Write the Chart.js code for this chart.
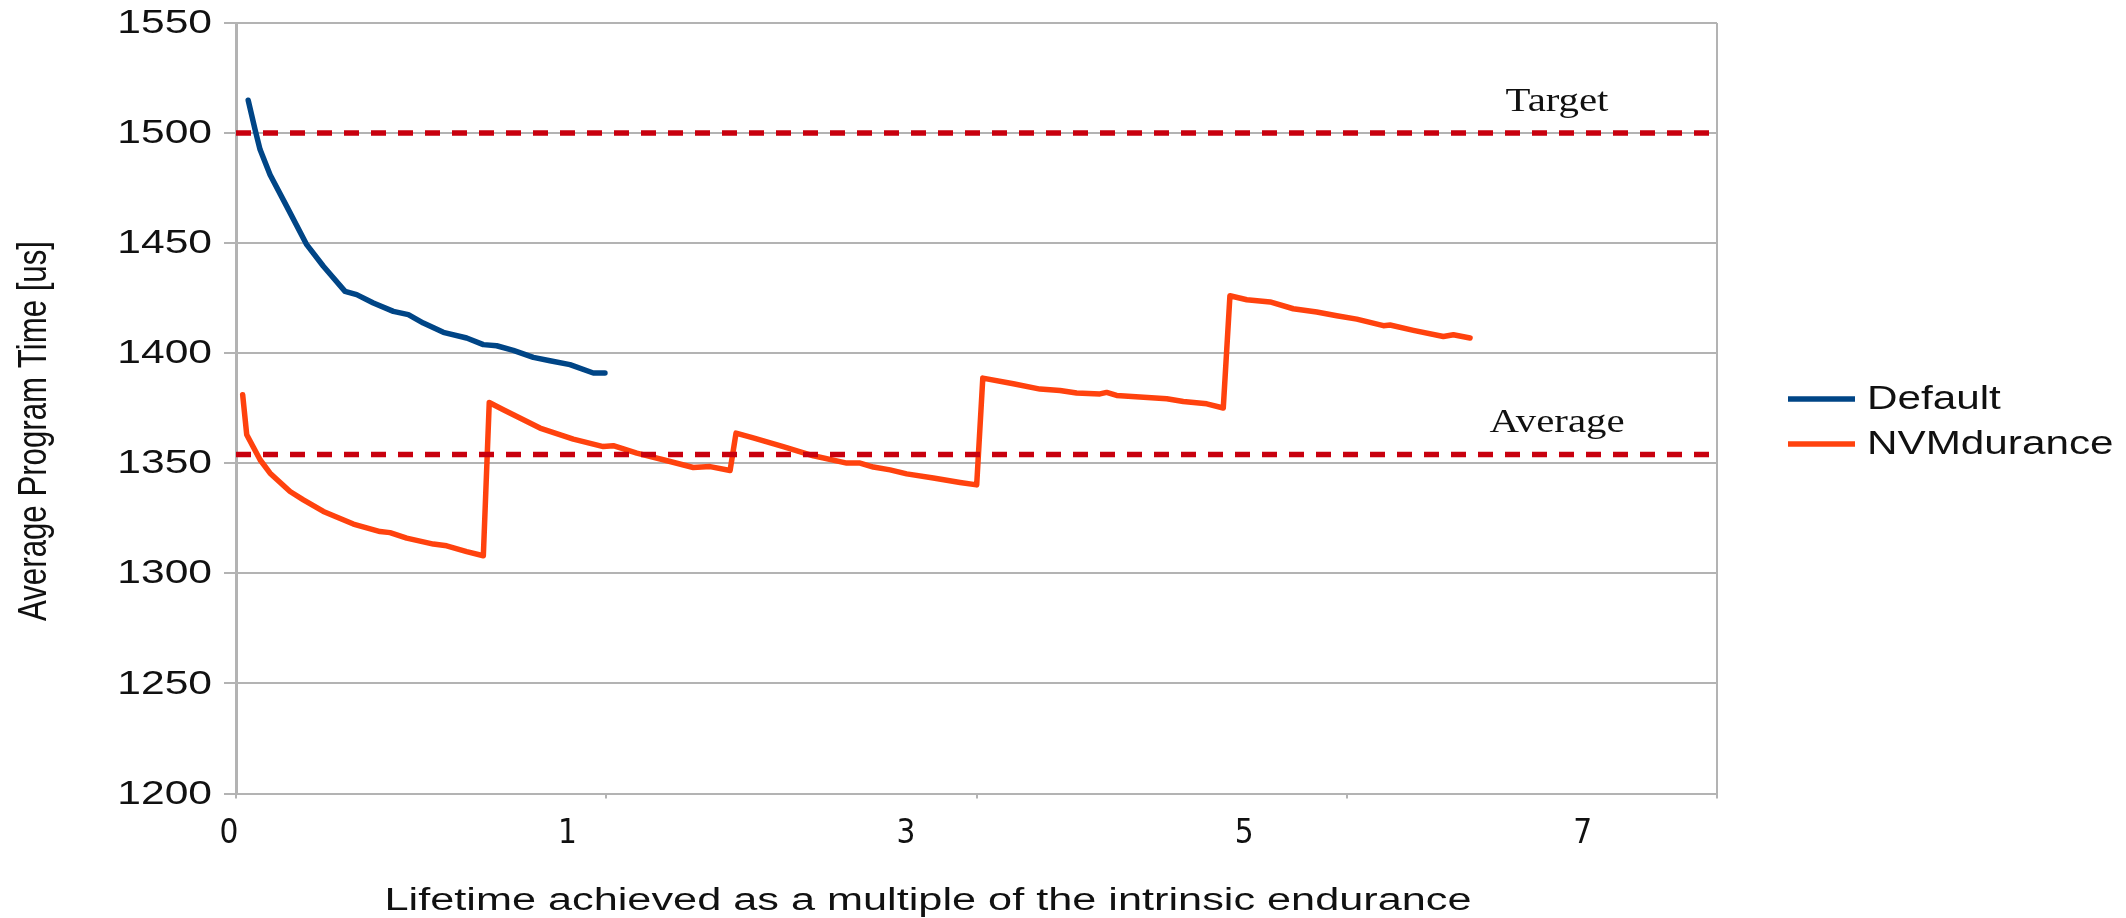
<!DOCTYPE html>
<html>
<head>
<meta charset="utf-8">
<title>Average Program Time vs Lifetime</title>
<script src="https://cdn.jsdelivr.net/npm/chart.js@4.4.1/dist/chart.umd.min.js"></script>
<style>
  html, body { margin: 0; padding: 0; background: #ffffff; }
  #wrap { width: 2126px; height: 918px; position: relative; }
</style>
</head>
<body>
<div id="wrap"><canvas id="chart" width="2126" height="918"></canvas></div>
<script>
// Lifetime (multiple of intrinsic endurance) and average program time [us]
const lifetimeDefault = [0.066, 0.103, 0.130, 0.184, 0.274, 0.382, 0.472, 0.589, 0.652, 0.742, 0.850, 0.931,
  1.012, 1.120, 1.246, 1.336, 1.408, 1.498, 1.606, 1.696, 1.804, 1.930, 1.993];
const timeDefault = [1514.9, 1501.6, 1492.5, 1481.1, 1466.7, 1449.3, 1439.5, 1428.1, 1426.6, 1422.8, 1419.0, 1417.5,
  1413.7, 1409.5, 1406.9, 1403.9, 1403.4, 1401.3, 1398.1, 1396.6, 1394.8, 1391.0, 1391.0];

const lifetimeNVM = [0.036, 0.058, 0.130, 0.184, 0.292, 0.364, 0.472, 0.634, 0.778, 0.832, 0.922, 1.066, 1.138,
  1.246, 1.336, 1.368, 1.444, 1.642, 1.822, 1.984, 2.038, 2.165, 2.308, 2.470, 2.561, 2.669, 2.701, 2.794,
  2.956, 3.119, 3.299, 3.371, 3.443, 3.533, 3.623, 3.767, 3.911, 4.001, 4.034, 4.199, 4.343, 4.451, 4.541,
  4.667, 4.703, 4.757, 5.028, 5.117, 5.244, 5.333, 5.369, 5.460, 5.586, 5.711, 5.838, 5.946, 6.054, 6.198,
  6.234, 6.360, 6.522, 6.576, 6.666];
const timeNVM = [1381.1, 1363.0, 1351.6, 1345.5, 1337.2, 1333.4, 1328.1, 1322.4, 1319.0, 1318.5, 1316.0, 1313.3,
  1312.5, 1309.9, 1308.0, 1377.6, 1374.3, 1366.0, 1361.0, 1357.6, 1358.0, 1354.6, 1351.6, 1348.1, 1348.5,
  1346.7, 1363.7, 1361.5, 1357.6, 1353.4, 1350.1, 1350.1, 1348.3, 1347.0, 1345.2, 1343.3, 1341.3, 1340.2,
  1388.7, 1386.1, 1383.7, 1383.1, 1381.9, 1381.5, 1382.2, 1380.8, 1379.3, 1378.1, 1377.0, 1375.1, 1426.1,
  1424.3, 1423.3, 1420.2, 1418.7, 1417.0, 1415.5, 1412.5, 1412.8, 1410.4, 1407.6, 1408.4, 1406.9];

const seriesNames = ['Default', 'NVMdurance'];
const referenceNames = ['Target', 'Average'];
const referenceTimes = [1500, 1354];

const xTickLabels = ['0', '1', '3', '5', '7'];
const yTickValues = [1200, 1250, 1300, 1350, 1400, 1450, 1500, 1550];

const xTitle = 'Lifetime achieved as a multiple of the intrinsic endurance';
const yTitle = 'Average Program Time [us]';

// ---- styling ----
const BLUE = '#004586';
const ORANGE = '#ff420e';
const RED = '#c8000e';
const GRID = '#b3b3b3';
const INK = '#111111';
const SANS = "'Liberation Sans', Arial, sans-serif";
const NARROW = "'Liberation Sans Narrow', 'DejaVu Sans Condensed', 'Liberation Sans', sans-serif";
const SERIF = "'Liberation Serif', 'Times New Roman', serif";

const toPoints = (xs, ys) => xs.map((x, i) => ({ x, y: ys[i] }));
const X_MIN = 0, X_MAX = 8;

function refLine(i) {
  return {
    label: referenceNames[i],
    data: [{ x: X_MIN, y: referenceTimes[i] }, { x: X_MAX, y: referenceTimes[i] }],
    borderColor: RED,
    backgroundColor: RED,
    borderWidth: 5.5,
    borderDash: [15, 12],
    pointRadius: 0,
    refLabel: true
  };
}

function seriesLine(name, xs, ys, color) {
  return {
    label: name,
    data: toPoints(xs, ys),
    borderColor: color,
    backgroundColor: color,
    borderWidth: 5.5,
    borderJoinStyle: 'round',
    borderCapStyle: 'round',
    pointRadius: 0,
    tension: 0,
    inLegend: true
  };
}

// draws text widened (or narrowed) horizontally by sx
function wideText(ctx, text, x, y, sx, align, baseline) {
  ctx.save();
  ctx.translate(x, y);
  ctx.scale(sx, 1);
  ctx.textAlign = align;
  ctx.textBaseline = baseline;
  ctx.fillText(text, 0, 0);
  ctx.restore();
}

// Right frame line, value-axis labels, reference captions, legend and axis titles
const decorations = {
  id: 'decorations',
  afterDraw(chart) {
    const { ctx, chartArea, scales } = chart;
    ctx.save();

    // right frame
    ctx.strokeStyle = GRID;
    ctx.lineWidth = 2;
    ctx.beginPath();
    ctx.moveTo(chartArea.right, chartArea.top);
    ctx.lineTo(chartArea.right, chartArea.bottom);
    ctx.stroke();

    ctx.fillStyle = INK;

    // value-axis tick labels
    ctx.font = '33px ' + SANS;
    scales.y.ticks.forEach(t => {
      const py = scales.y.getPixelForValue(t.value);
      wideText(ctx, String(t.value), chartArea.left - 24, py + 1, 1.29, 'right', 'middle');
    });

    // captions above reference lines
    ctx.font = '34px ' + SERIF;
    chart.data.datasets.forEach(ds => {
      if (!ds.refLabel) return;
      const py = scales.y.getPixelForValue(ds.data[0].y) - 22;
      wideText(ctx, ds.label, chartArea.right - 160, py, 1.2, 'center', 'alphabetic');
    });

    // legend
    let ly = 399;
    ctx.font = '33px ' + SANS;
    chart.data.datasets.forEach(ds => {
      if (!ds.inLegend) return;
      ctx.strokeStyle = ds.borderColor;
      ctx.lineWidth = 5.5;
      ctx.beginPath();
      ctx.moveTo(1788, ly);
      ctx.lineTo(1855, ly);
      ctx.stroke();
      wideText(ctx, ds.label, 1867, ly + 1, 1.28, 'left', 'middle');
      ly += 45;
    });

    // x axis title
    ctx.font = '31px ' + SANS;
    const xw = ctx.measureText(xTitle).width;
    wideText(ctx, xTitle, 928, 910, 1087 / xw, 'center', 'alphabetic');

    // y axis title (rotated; widened across its glyph height)
    ctx.font = '30px ' + SANS;
    const yw = ctx.measureText(yTitle).width;
    ctx.save();
    ctx.translate(35, 431);
    ctx.rotate(-Math.PI / 2);
    ctx.scale(380 / yw, 1.35);
    ctx.textAlign = 'center';
    ctx.textBaseline = 'middle';
    ctx.fillText(yTitle, 0, 0);
    ctx.restore();

    ctx.restore();
  }
};

new Chart(document.getElementById('chart'), {
  type: 'line',
  data: {
    datasets: [
      refLine(0),
      refLine(1),
      seriesLine(seriesNames[0], lifetimeDefault, timeDefault, BLUE),
      seriesLine(seriesNames[1], lifetimeNVM, timeNVM, ORANGE)
    ]
  },
  options: {
    responsive: false,
    devicePixelRatio: 1,
    animation: false,
    layout: { padding: { left: 0, right: 409, top: 23, bottom: 0 } },
    plugins: { legend: { display: false }, tooltip: { enabled: false } },
    scales: {
      x: {
        type: 'linear',
        position: 'bottom',
        min: X_MIN,
        max: X_MAX,
        ticks: { display: false, stepSize: 2 },
        grid: { drawOnChartArea: false, drawTicks: true, tickLength: 5, color: GRID, lineWidth: 2 },
        border: { color: GRID, width: 2 },
        afterFit(s) { s.height = 5; }
      },
      xl: {
        type: 'linear',
        position: 'bottom',
        min: 0.0207,
        max: 4.397,
        afterBuildTicks(s) { s.ticks = xTickLabels.map((_, i) => ({ value: i })); },
        ticks: {
          autoSkip: false,
          maxRotation: 0,
          padding: 8,
          color: INK,
          font: { family: NARROW, size: 33 },
          callback: (v, i) => xTickLabels[i]
        },
        grid: { display: false },
        border: { display: false },
        afterFit(s) { s.height = 119.5; s.paddingLeft = 0; s.paddingRight = 0; }
      },
      y: {
        type: 'linear',
        min: yTickValues[0],
        max: yTickValues[yTickValues.length - 1],
        afterBuildTicks(s) { s.ticks = yTickValues.map(v => ({ value: v })); },
        ticks: { display: false },
        grid: { color: GRID, lineWidth: 2, tickLength: 12, tickColor: GRID },
        border: { color: GRID, width: 3 },
        afterFit(s) { s.width = 236; s.paddingTop = 0; s.paddingBottom = 0; }
      }
    }
  },
  plugins: [decorations]
});
</script>
</body>
</html>
